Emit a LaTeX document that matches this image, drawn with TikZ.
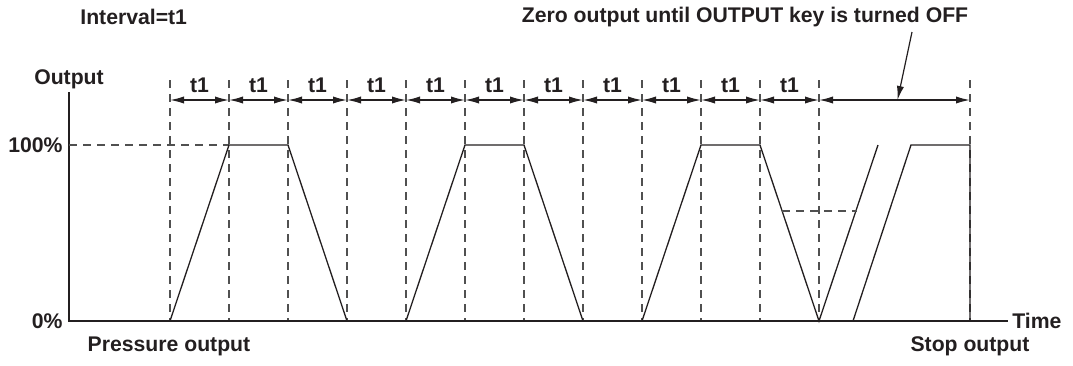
\documentclass[tikz,border=0pt]{standalone}
\usepackage{fontspec}
\setmainfont{Liberation Sans}
\usepackage{tikz}
\usetikzlibrary{arrows.meta, positioning, calc}
\usepackage{xcolor}
\definecolor{ink}{RGB}{35,31,32}
\definecolor{dashgray}{RGB}{80,80,80}

\begin{document}
\begin{tikzpicture}[x=0.5pt, y=-0.5pt,
    every node/.style={font=\fontsize{10.6}{12}\selectfont\bfseries, text=ink, inner sep=0pt},
    guide/.style={dashgray, line width=0.6pt, dash pattern=on 4pt off 3pt},
    wave/.style={ink, line width=0.65pt},
    axisline/.style={ink, line width=0.8pt},
    span/.style={ink, line width=0.7pt, {Latex[length=7pt,width=3.6pt]}-{Latex[length=7pt,width=3.6pt]}}]
  \useasboundingbox (0,0) rectangle (1073,365);

  % tick marks of the intervals
  \foreach \i in {0,...,11} {
    \coordinate (top\i) at ({170+59*\i},80);
    \coordinate (tk\i) at ({170+59*\i},100);
    \coordinate (bot\i) at ({170+59*\i},321);
  }
  \coordinate (top12) at (970,80);
  \coordinate (tk12) at (970,100);
  \coordinate (bot12) at (970,321);
  \foreach \i in {0,...,12} \draw[guide] (top\i) -- (bot\i);
  \foreach \i [evaluate=\i as \j using int(\i+1)] in {0,...,10} {
    \draw[span] (tk\i) -- (tk\j) node[midway, yshift=7.5pt] (lbl\i) {t1};
  }
  \draw[span] (tk11) -- (tk12) coordinate[pos=0.52] (offpt);

  % axes
  \node (out) at (69,79) {Output};
  \node[anchor=east] (full) at (63,145) {100\%};
  \node[anchor=east] (zero) at (63,321) {0\%};
  \node[anchor=west] (time) at (1012,321) {Time};
  \draw[axisline] (69,92) -- (69,321) -- (1008,321);
  \draw[guide] (69,145) -- (229,145);

  % output waveform
  \draw[wave] (bot0) -- (229,145) -- (288,145) -- (bot3);
  \draw[wave] (bot4) -- (465,145) -- (524,145) -- (bot7);
  \draw[wave] (bot8) -- (701,145) -- (760,145) -- (bot11) -- (878,145);
  \draw[wave] (853,321) -- (911,145) -- (970,145) -- (bot12);
  \draw[guide] (782,211) -- (857,211);

  % labels
  \node[anchor=west] (intv) at (80,17) {Interval=t1};
  \node (zerolbl) at (745,17) {Zero output until OUTPUT key is turned OFF};
  \node (press) at (169,346) {Pressure output};
  \node (stop) at (970,346) {Stop output};
  \coordinate (callout) at (912,32);
  \draw[ink, line width=0.6pt, -{Latex[length=7pt,width=3.6pt]}] (callout) -- (offpt);
\end{tikzpicture}
\end{document}
